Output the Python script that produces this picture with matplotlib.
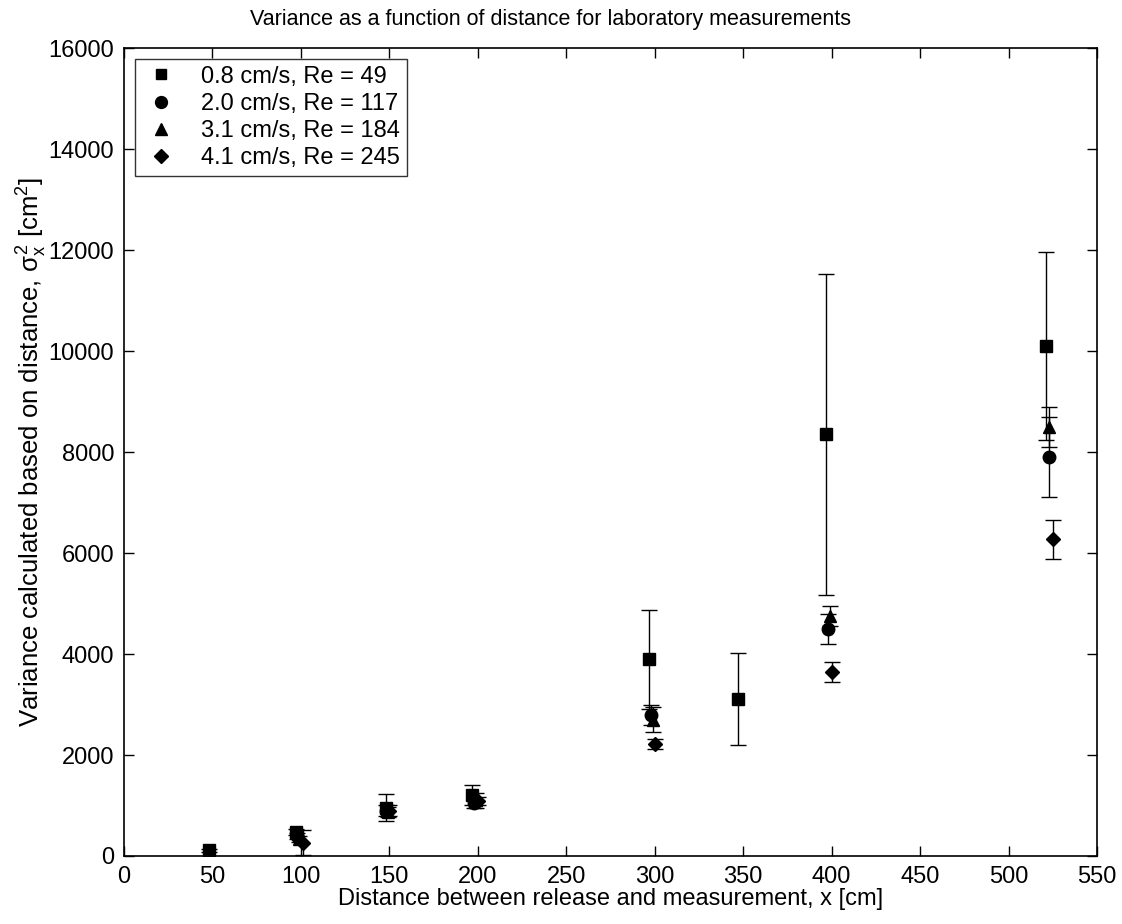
import matplotlib
matplotlib.use("Agg")
import matplotlib.pyplot as plt
from matplotlib.lines import Line2D

plt.rcParams['font.family'] = ['Liberation Sans', 'DejaVu Sans']
plt.rcParams['mathtext.fontset'] = 'custom'
plt.rcParams['mathtext.rm'] = 'Liberation Sans'
plt.rcParams['mathtext.it'] = 'Liberation Sans'

labels = ["0.8 cm/s, Re = 49", "2.0 cm/s, Re = 117", "3.1 cm/s, Re = 184", "4.1 cm/s, Re = 245"]
markers = ["s", "o", "^", "D"]

x_08 = [48, 97, 148, 197, 297, 347, 397, 521]
y_08 = [110, 470, 960, 1200, 3900, 3110, 8350, 10100]
e_08 = [30, 60, 260, 200, 980, 910, 3180, 1870]

x_20 = [98, 148, 198, 298, 398, 523]
y_20 = [400, 900, 1050, 2800, 4500, 7900]
e_20 = [60, 100, 100, 200, 300, 800]

x_31 = [99, 149, 199, 299, 399, 523]
y_31 = [330, 880, 1100, 2700, 4750, 8500]
e_31 = [60, 100, 150, 250, 200, 400]

x_41 = [101, 150, 200, 300, 400, 525]
y_41 = [260, 900, 1080, 2220, 3650, 6270]
e_41 = [250, 100, 80, 100, 200, 390]

xs = [x_08, x_20, x_31, x_41]
ys = [y_08, y_20, y_31, y_41]
es = [e_08, e_20, e_31, e_41]
msizes = [8, 9, 9, 7.5]

fig = plt.figure(figsize=(11.22, 9.24), dpi=100)
ax = fig.add_axes([0.1105, 0.0736, 0.9777 - 0.1105, 0.948 - 0.0736])

handles = []
for x, y, e, m, ms, lab in zip(xs, ys, es, markers, msizes, labels):
    ax.errorbar(x, y, yerr=e, fmt=m, color='black', markersize=ms,
                ecolor='black', elinewidth=1.0, capsize=6, capthick=1.0)
    handles.append(Line2D([], [], linestyle='none', marker=m, color='black',
                          markersize=ms * 0.95, label=lab))

ax.set_xlim(0, 550)
ax.set_ylim(0, 16000)
ax.set_xticks(range(0, 551, 50))
ax.set_yticks(range(0, 16001, 2000))
ax.tick_params(direction='in', top=True, right=True, labelsize=17, length=7, width=1, pad=7)
for s in ax.spines.values():
    s.set_linewidth(1.2)

fig.text(551 / 1122, 1 - 20 / 924, "Variance as a function of distance for laboratory measurements",
         fontsize=15.5, ha='center', va='center')
ax.set_xlabel("Distance between release and measurement, x [cm]", fontsize=17, labelpad=0)
ax.set_ylabel(r"Variance calculated based on distance, $\sigma_x^2$ [cm$^2$]", fontsize=18.5, labelpad=0)

leg = ax.legend(handles=handles, loc='upper left', fontsize=17, frameon=True, fancybox=False,
                edgecolor='black', borderaxespad=0.45, handlelength=1.6,
                handletextpad=0.9, labelspacing=0.22, borderpad=0.3,
                numpoints=1)
leg.get_frame().set_linewidth(1.0)

fig.savefig("out.png", dpi=100)
